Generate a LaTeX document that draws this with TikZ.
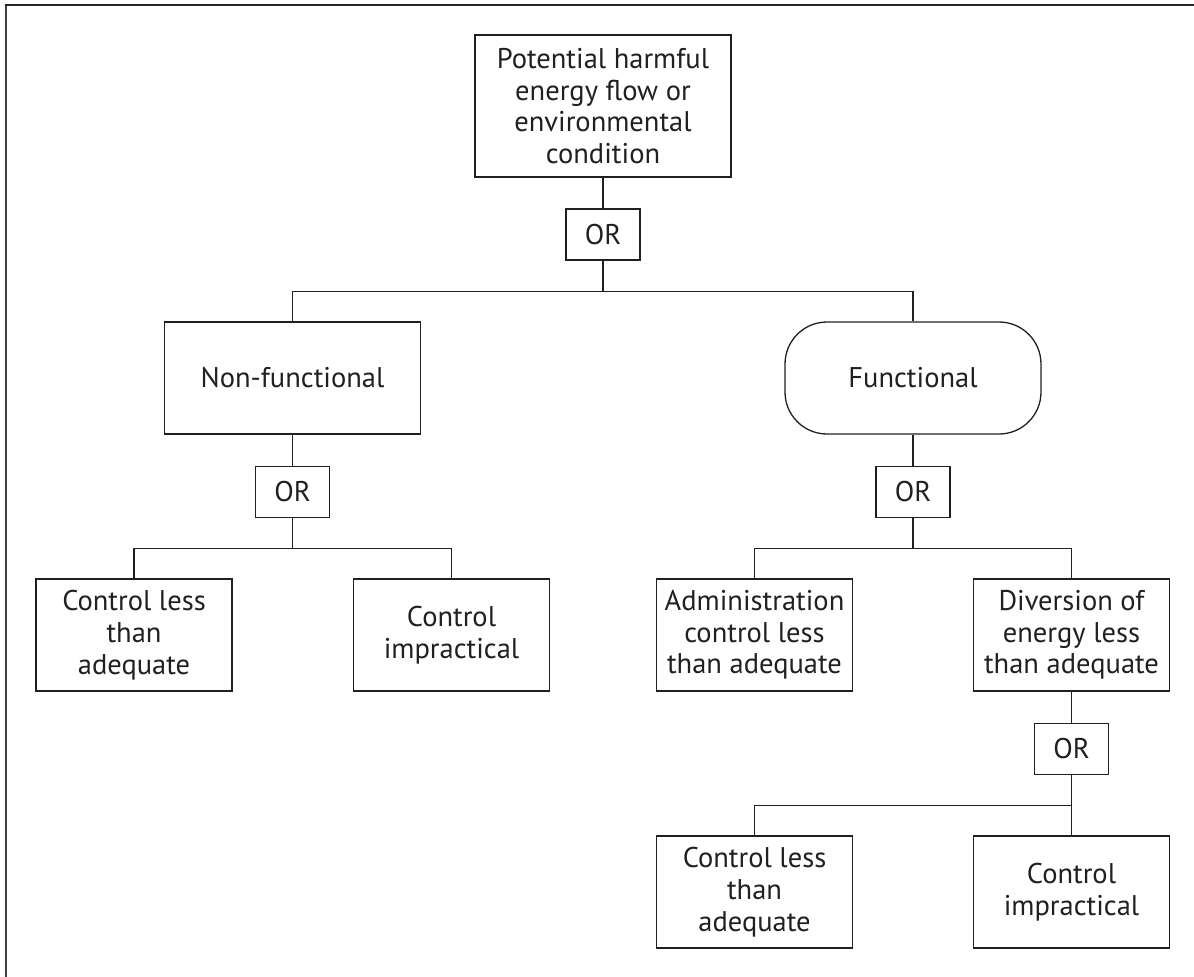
\documentclass[tikz,border=0pt]{standalone}
\usepackage{fontspec}
\setmainfont{PT Sans}
\definecolor{ink}{HTML}{231F20}
\begin{document}
\begin{tikzpicture}[x=1pt,y=-1pt,
  txt/.style={align=center, inner sep=0pt, text=ink,
    font=\fontsize{28.5}{31.7}\selectfont},
  evt/.style={txt, draw=ink, line width=1.3pt},
  gate/.style={evt, minimum width=74pt, minimum height=51pt},
  leaf/.style={evt, minimum width=196pt, minimum height=112pt},
  mid/.style={evt, minimum width=256pt, minimum height=112pt},
  wire/.style={draw=ink, line width=1.3pt}]
\useasboundingbox (0,0) rectangle (1194,977);

% open frame: top and left rules only
\draw[black!75, line width=2pt] (6,977) -- (6,5);
\draw[black!85, line width=2pt] (5,5) -- (1194,5);

% top event and first gate
\node[evt, minimum width=256pt, minimum height=142pt] (top) at (603,106)
  {Potential harmful\\energy flow or\\environmental\\condition};
\node[gate] (or1) at (603,234.5) {OR};

% second level
\node[mid] (nf) at (292.5,378) {Non-functional};
\node[mid, rounded corners=42pt] (fn) at (913,378) {Functional};
\node[gate] (or2) at (292.5,492) {OR};
\node[gate] (or3) at (913,492) {OR};

% third level
\node[leaf] (a1) at (134,635) {Control less\\than\\adequate};
\node[leaf] (a2) at (451.5,635) {Control\\impractical};
\node[leaf] (b1) at (754.5,635) {Administration\\control less\\than adequate};
\node[leaf] (b2) at (1071.5,635) {Diversion of\\energy less\\than adequate};
\node[gate] (or4) at (1071.5,748.7) {OR};

% fourth level
\node[leaf] (c1) at (754.5,892) {Control less\\than\\adequate};
\node[leaf] (c2) at (1071.5,892) {Control\\impractical};

% junctions of the branch lines
\coordinate (j1) at (603,291.5);
\coordinate (j2) at (292.5,548.5);
\coordinate (j3) at (913,548.5);
\coordinate (j4) at (1071.5,805.7);

% connectors
\draw[wire] (top) -- (or1);
\draw[wire] (or1) -- (j1);
\draw[wire] (nf.north) |- (j1) -| (fn.north);
\draw[wire] (nf) -- (or2);
\draw[wire] (fn) -- (or3);
\draw[wire] (or2) -- (j2);
\draw[wire] (a1.north) |- (j2) -| (a2.north);
\draw[wire] (or3) -- (j3);
\draw[wire] (b1.north) |- (j3) -| (b2.north);
\draw[wire] (b2) -- (or4);
\draw[wire] (or4) -- (c2);
\draw[wire] (c1.north) |- (j4);
\end{tikzpicture}
\end{document}
